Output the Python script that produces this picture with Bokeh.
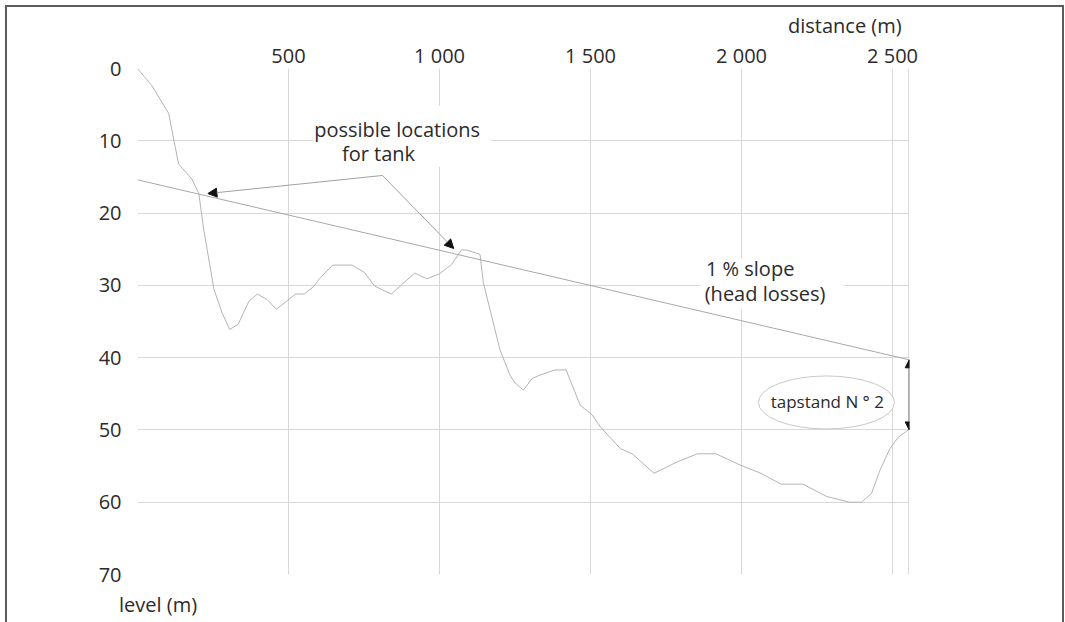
from bokeh.plotting import figure
from bokeh.models import (Range1d, FixedTicker, Label, Arrow, NormalHead, Span, BoxAnnotation,
                          LinearAxis)
from bokeh.embed import file_html
from bokeh.resources import INLINE

# ---- data -------------------------------------------------------------
distance = [0, 48, 103, 136, 180, 203, 219, 253, 280, 305, 333, 369, 397, 430, 460, 524,
            552, 585, 602, 646, 710, 751, 785, 840, 918, 958, 1000, 1040, 1073, 1089,
            1134, 1145, 1178, 1200, 1233, 1250, 1278, 1306, 1333, 1383, 1419, 1466, 1505,
            1533, 1599, 1638, 1710, 1788, 1854, 1915, 1998, 2064, 2131, 2203, 2281, 2358,
            2397, 2430, 2458, 2491, 2519, 2552]
level = [0, 2.4, 6.2, 13.2, 15.3, 17.3, 22.2, 30.5, 33.8, 36.1, 35.4, 32.2, 31.2, 32.0,
         33.3, 31.2, 31.2, 30.1, 29.1, 27.2, 27.2, 28.2, 30.1, 31.2, 28.3, 29.1, 28.4,
         27.1, 25.1, 25.1, 25.7, 29.6, 35.2, 38.9, 42.4, 43.5, 44.5, 42.9, 42.4, 41.7,
         41.7, 46.6, 47.9, 49.6, 52.6, 53.3, 56.0, 54.4, 53.3, 53.3, 54.9, 56.0, 57.5,
         57.5, 59.2, 60.0, 60.0, 58.8, 55.6, 52.6, 51.0, 50.0]

slope_distance = [0, 2555]
slope_level = [15.4, 40.3]

x_ticks = [500, 1000, 1500, 2000, 2500]
x_tick_labels = ["500", "1 000", "1 500", "2 000", "2 500"]
y_ticks = [0, 10, 20, 30, 40, 50, 60, 70]
y_tick_labels = ["0", "10", "20", "30", "40", "50", "60", "70"]

x_title = "distance (m)"
y_title = "level (m)"
x_title_at = 2342   # centre of the x title, in metres
y_title_at = 68     # centre of the y title, in metres along the x axis

tank_apex = (811, 14.8)
tank_sites = [(233, 17.3), (1047, 24.9)]
tapstand_x = 2555
tapstand_top = 40.3
tapstand_bottom = 50.0

# ---- style ------------------------------------------------------------
FONT = "Open Sans"
TXT = "#2b2b2b"
GRID = "#d8d8d8"
PROFILE = "#b4b4b4"
BORDER = "2px solid #5c5c5c"

p = figure(width=1059, height=617, output_backend="svg", toolbar_location=None,
           x_range=Range1d(0, 2556), y_range=Range1d(70, 0),
           x_axis_location="above",
           min_border_left=130, min_border_right=157, min_border_top=61, min_border_bottom=50,
           styles={"border-left": BORDER, "border-top": BORDER, "border-right": BORDER,
                   "margin-left": "5px", "margin-top": "5px"})
p.outline_line_color = None
p.background_fill_color = "white"
p.border_fill_color = "white"


def style_axis(ax, ticks, labels, standoff):
    ax.ticker = FixedTicker(ticks=ticks)
    ax.major_label_overrides = {t: l for t, l in zip(ticks, labels)}
    ax.axis_line_color = None
    ax.major_tick_line_color = None
    ax.minor_tick_line_color = None
    ax.major_tick_out = 0
    ax.major_tick_in = 0
    ax.major_label_standoff = standoff
    ax.major_label_text_font = FONT
    ax.major_label_text_font_size = "20px"
    ax.major_label_text_color = TXT


style_axis(p.xaxis[0], x_ticks, x_tick_labels, 0)
style_axis(p.yaxis[0], y_ticks, y_tick_labels, 16)

# axis titles as extra axes carrying a single label
top_title = LinearAxis()
style_axis(top_title, [x_title_at], [x_title], 0)
p.add_layout(top_title, "above")
bottom_title = LinearAxis()
style_axis(bottom_title, [y_title_at], [y_title], 16)
p.add_layout(bottom_title, "below")

p.xgrid.ticker = FixedTicker(ticks=x_ticks)
p.ygrid.ticker = FixedTicker(ticks=y_ticks)
p.xgrid.grid_line_color = GRID
p.ygrid.grid_line_color = GRID
p.add_layout(Span(location=2553, dimension="height", line_color=GRID, line_width=1))

# white masks behind the annotation texts (they interrupt the grid)
p.add_layout(BoxAnnotation(left=582, right=1170, top=5.2, bottom=13.6, fill_color="white",
                           fill_alpha=1, line_alpha=0, level="underlay"))
p.add_layout(BoxAnnotation(left=1865, right=2337, top=26.2, bottom=33.3, fill_color="white",
                           fill_alpha=1, line_alpha=0, level="underlay"))

# terrain profile and 1 % slope line
p.line(distance, level, line_color=PROFILE, line_width=1)
p.line(slope_distance, slope_level, line_color="#a8a8a8", line_width=1)

# arrows to possible tank locations
for sx, sy in tank_sites:
    p.add_layout(Arrow(x_start=tank_apex[0], y_start=tank_apex[1], x_end=sx, y_end=sy,
                       line_color="#a0a0a0", line_width=1,
                       end=NormalHead(size=9, fill_color="#111111", line_color="#111111")))

# tapstand double arrow
mid = (tapstand_top + tapstand_bottom) / 2
for yend in (tapstand_top, tapstand_bottom):
    p.add_layout(Arrow(x_start=tapstand_x, y_start=mid, x_end=tapstand_x, y_end=yend,
                       line_color="#444444", line_width=1,
                       end=NormalHead(size=8, fill_color="#111111", line_color="#111111")))

# ellipse around tapstand label
p.ellipse(x=[2281], y=[46.2], width=136, height=53, width_units="screen", height_units="screen",
          fill_color="white", line_color="#c8c8c8", line_width=1)


def lab(x, y, text, align="left", size="20px"):
    p.add_layout(Label(x=x, y=y, text=text, text_font=FONT, text_font_size=size,
                       text_color=TXT, text_align=align, text_baseline="alphabetic"))


lab(585, 8.5, "possible locations")
lab(677, 11.8, "for tank")
lab(1882, 27.6, "1 % slope")
lab(1878, 31.1, "(head losses)")
lab(2284, 46.0, "tapstand N ° 2", align="center", size="17px")

open("out.html", "w").write(file_html(p, INLINE))
